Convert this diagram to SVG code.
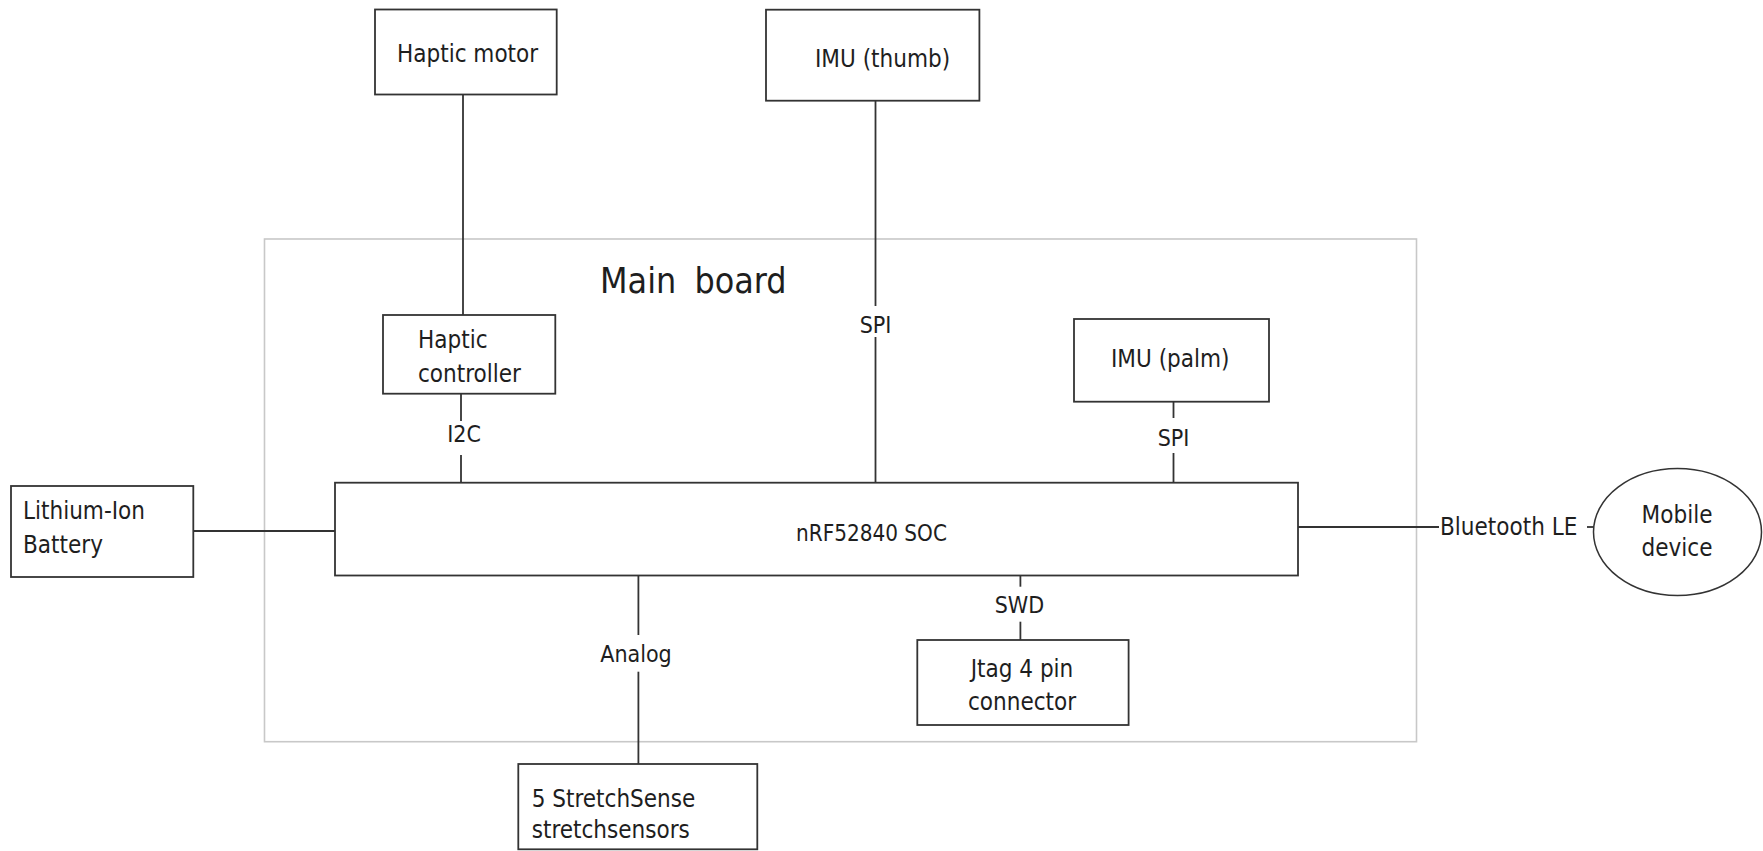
<svg xmlns="http://www.w3.org/2000/svg" width="1763" height="851" viewBox="0 0 1763 851">
  <style>
    .box { fill: #ffffff; stroke: #333333; stroke-width: 1.8; }
    .board { fill: none; stroke: #c8c8c8; stroke-width: 1.6; }
    .wire { stroke: #333333; stroke-width: 1.8; fill: none; }
    text { font-family: 'DejaVu Sans Condensed', 'DejaVu Sans', sans-serif; font-stretch: condensed; fill: #1e1e1e; font-size: 24px; }
    .lbl { font-size: 23px; text-anchor: middle; }
    .mid { text-anchor: middle; }
  </style>
  <rect width="1763" height="851" fill="#ffffff"/>

  <g id="main-board">
    <rect class="board" x="264.5" y="239" width="1152" height="502.7"/>
    <text x="600" y="293" style="font-size:35.5px; word-spacing:8px">Main board</text>
  </g>

  <g id="connectors">
    <line class="wire" x1="463" y1="94.5" x2="463" y2="315"/>
    <line class="wire" x1="461" y1="393.7" x2="461" y2="421"/>
    <line class="wire" x1="461" y1="455" x2="461" y2="482.7"/>
    <line class="wire" x1="875.5" y1="100.7" x2="875.5" y2="306"/>
    <line class="wire" x1="875.5" y1="337" x2="875.5" y2="482.7"/>
    <line class="wire" x1="1173.5" y1="401.7" x2="1173.5" y2="418"/>
    <line class="wire" x1="1173.5" y1="453" x2="1173.5" y2="482.7"/>
    <line class="wire" x1="193.3" y1="531" x2="335" y2="531"/>
    <line class="wire" x1="638.4" y1="575.5" x2="638.4" y2="635"/>
    <line class="wire" x1="638.4" y1="671.7" x2="638.4" y2="764"/>
    <line class="wire" x1="1020.4" y1="575.5" x2="1020.4" y2="586.7"/>
    <line class="wire" x1="1020.4" y1="621.7" x2="1020.4" y2="640"/>
    <line class="wire" x1="1298" y1="527" x2="1439" y2="527"/>
    <line class="wire" x1="1587" y1="527" x2="1594" y2="527"/>
    <text class="lbl" x="464" y="441.7">I2C</text>
    <text class="lbl" x="875.5" y="333.3">SPI</text>
    <text class="lbl" x="1173.5" y="446">SPI</text>
    <text class="lbl" x="636" y="661.7">Analog</text>
    <text class="lbl" x="1019.5" y="613.3">SWD</text>
    <text x="1440" y="535">Bluetooth LE</text>
  </g>

  <g id="haptic-motor">
    <rect class="box" x="375" y="9.5" width="181.7" height="85"/>
    <text x="397" y="62">Haptic motor</text>
  </g>

  <g id="haptic-controller">
    <rect class="box" x="383" y="315" width="172.3" height="78.7"/>
    <text x="418" y="348.3">Haptic</text>
    <text x="418" y="381.7">controller</text>
  </g>

  <g id="imu-thumb">
    <rect class="box" x="766" y="9.7" width="213.4" height="91"/>
    <text x="815" y="66.7">IMU (thumb)</text>
  </g>

  <g id="imu-palm">
    <rect class="box" x="1074" y="319" width="195" height="82.7"/>
    <text x="1111" y="366.7">IMU (palm)</text>
  </g>

  <g id="soc">
    <rect class="box" x="335" y="482.7" width="963" height="92.8"/>
    <text x="796" y="540.7" style="font-size:22.3px">nRF52840 SOC</text>
  </g>

  <g id="battery">
    <rect class="box" x="11" y="486" width="182.3" height="91"/>
    <text x="23" y="519.3">Lithium-Ion</text>
    <text x="23" y="553.3">Battery</text>
  </g>

  <g id="jtag">
    <rect class="box" x="917.3" y="640" width="211.3" height="85"/>
    <text class="mid" x="1022" y="676.7">Jtag 4 pin</text>
    <text class="mid" x="1022" y="710">connector</text>
  </g>

  <g id="stretchsense">
    <rect class="box" x="518.3" y="764" width="239" height="85.3"/>
    <text x="531.7" y="806.7">5 StretchSense</text>
    <text x="531.7" y="838">stretchsensors</text>
  </g>

  <g id="mobile-device">
    <ellipse cx="1677.5" cy="532" rx="84" ry="63.5" fill="#ffffff" stroke="#333333" stroke-width="1.5"/>
    <text class="mid" x="1677" y="523" style="font-size:24px">Mobile</text>
    <text class="mid" x="1677" y="556" style="font-size:24px">device</text>
  </g>
</svg>
